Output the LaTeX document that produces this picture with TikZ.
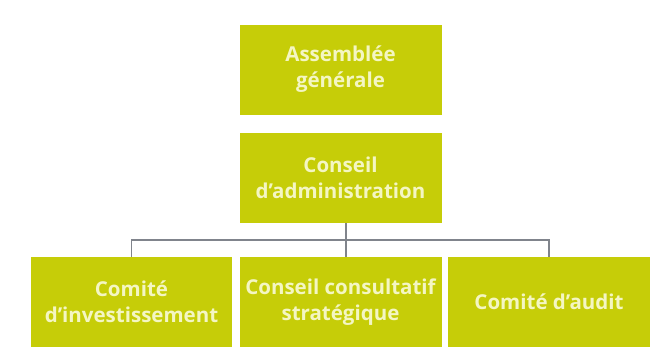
\documentclass[tikz,border=0pt]{standalone}
\usepackage{fontspec}
\setmainfont{Open Sans}
\definecolor{boxgreen}{RGB}{198,205,8}
\definecolor{boxtext}{RGB}{244,246,195}
\definecolor{linegray}{RGB}{128,132,140}
\tikzset{
	orgbox/.style={fill=boxgreen,text=boxtext,align=center,inner sep=0pt,
		minimum width=202pt,minimum height=90pt,
		font=\fontsize{20.5}{26}\selectfont\bfseries},
	orgline/.style={draw=linegray,line width=1.2pt}
}
\begin{document}
\begin{tikzpicture}[x=1pt,y=-1pt]
			\useasboundingbox (0,0) rectangle (651,351);
			\node[orgbox] (ag) at (340.5,69.5) {Assemblée\\générale};
			\node[orgbox] (ca) at (340.5,178) {Conseil\\d’administration};
			\node[orgbox,minimum width=201pt] (ci) at (131.5,302) {Comité\\d’investissement};
			\node[orgbox] (ccs) at (340.5,302) {Conseil consultatif\\stratégique};
			\node[orgbox] (cau) at (549,302) {Comité d’audit};
			\coordinate (bus) at (346,240);
			\draw[orgline] (ca.south -| bus) -- (ccs.north -| bus);
			\draw[orgline] (ci.north) |- (bus) -| (cau.north);
		\end{tikzpicture}
\end{document}
